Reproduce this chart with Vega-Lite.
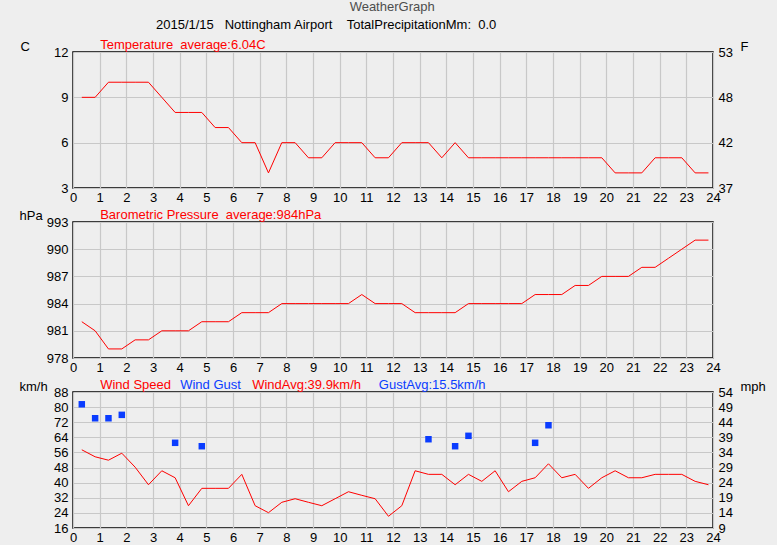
{
  "$schema": "https://vega.github.io/schema/vega-lite/v6.json",
  "padding": {"left": 18, "top": 1, "right": 10, "bottom": 5},
  "background": "#eeeeee",
  "title": {"text": "WeatherGraph", "fontSize": 13, "fontWeight": "normal", "color": "#4d4d4d", "font": "Liberation Sans", "anchor": "middle", "offset": 4},
  "config": {
    "view": {"stroke": "black", "strokeWidth": 1.5},
    "font": "Liberation Sans",
    "axis": {"labelFont": "Liberation Sans", "labelFontSize": 13, "labelColor": "black", "gridColor": "#c8c8c8", "gridWidth": 1.2, "ticks": false, "domain": false, "titleFont": "Liberation Sans", "titleFontSize": 13, "titleFontWeight": "normal", "titleColor": "black", "labelOverlap": false, "labelFlush": false, "labelBound": false}
  },
  "datasets": {
    "temp": [
      {"hour": 0.33, "c": 9}, {"hour": 0.83, "c": 9}, {"hour": 1.33, "c": 10}, {"hour": 1.83, "c": 10},
      {"hour": 2.33, "c": 10}, {"hour": 2.83, "c": 10}, {"hour": 3.33, "c": 9}, {"hour": 3.83, "c": 8},
      {"hour": 4.33, "c": 8}, {"hour": 4.83, "c": 8}, {"hour": 5.33, "c": 7}, {"hour": 5.83, "c": 7},
      {"hour": 6.33, "c": 6}, {"hour": 6.83, "c": 6}, {"hour": 7.33, "c": 4}, {"hour": 7.83, "c": 6},
      {"hour": 8.33, "c": 6}, {"hour": 8.83, "c": 5}, {"hour": 9.33, "c": 5}, {"hour": 9.83, "c": 6},
      {"hour": 10.33, "c": 6}, {"hour": 10.83, "c": 6}, {"hour": 11.33, "c": 5}, {"hour": 11.83, "c": 5},
      {"hour": 12.33, "c": 6}, {"hour": 12.83, "c": 6}, {"hour": 13.33, "c": 6}, {"hour": 13.83, "c": 5},
      {"hour": 14.33, "c": 6}, {"hour": 14.83, "c": 5}, {"hour": 15.33, "c": 5}, {"hour": 15.83, "c": 5},
      {"hour": 16.33, "c": 5}, {"hour": 16.83, "c": 5}, {"hour": 17.33, "c": 5}, {"hour": 17.83, "c": 5},
      {"hour": 18.33, "c": 5}, {"hour": 18.83, "c": 5}, {"hour": 19.33, "c": 5}, {"hour": 19.83, "c": 5},
      {"hour": 20.33, "c": 4}, {"hour": 20.83, "c": 4}, {"hour": 21.33, "c": 4}, {"hour": 21.83, "c": 5},
      {"hour": 22.33, "c": 5}, {"hour": 22.83, "c": 5}, {"hour": 23.33, "c": 4}, {"hour": 23.83, "c": 4}
    ],
    "pressure": [
      {"hour": 0.33, "hpa": 982}, {"hour": 0.83, "hpa": 981}, {"hour": 1.33, "hpa": 979}, {"hour": 1.83, "hpa": 979},
      {"hour": 2.33, "hpa": 980}, {"hour": 2.83, "hpa": 980}, {"hour": 3.33, "hpa": 981}, {"hour": 3.83, "hpa": 981},
      {"hour": 4.33, "hpa": 981}, {"hour": 4.83, "hpa": 982}, {"hour": 5.33, "hpa": 982}, {"hour": 5.83, "hpa": 982},
      {"hour": 6.33, "hpa": 983}, {"hour": 6.83, "hpa": 983}, {"hour": 7.33, "hpa": 983}, {"hour": 7.83, "hpa": 984},
      {"hour": 8.33, "hpa": 984}, {"hour": 8.83, "hpa": 984}, {"hour": 9.33, "hpa": 984}, {"hour": 9.83, "hpa": 984},
      {"hour": 10.33, "hpa": 984}, {"hour": 10.83, "hpa": 985}, {"hour": 11.33, "hpa": 984}, {"hour": 11.83, "hpa": 984},
      {"hour": 12.33, "hpa": 984}, {"hour": 12.83, "hpa": 983}, {"hour": 13.33, "hpa": 983}, {"hour": 13.83, "hpa": 983},
      {"hour": 14.33, "hpa": 983}, {"hour": 14.83, "hpa": 984}, {"hour": 15.33, "hpa": 984}, {"hour": 15.83, "hpa": 984},
      {"hour": 16.33, "hpa": 984}, {"hour": 16.83, "hpa": 984}, {"hour": 17.33, "hpa": 985}, {"hour": 17.83, "hpa": 985},
      {"hour": 18.33, "hpa": 985}, {"hour": 18.83, "hpa": 986}, {"hour": 19.33, "hpa": 986}, {"hour": 19.83, "hpa": 987},
      {"hour": 20.33, "hpa": 987}, {"hour": 20.83, "hpa": 987}, {"hour": 21.33, "hpa": 988}, {"hour": 21.83, "hpa": 988},
      {"hour": 22.33, "hpa": 989}, {"hour": 22.83, "hpa": 990}, {"hour": 23.33, "hpa": 991}, {"hour": 23.83, "hpa": 991}
    ],
    "wind": [
      {"hour": 0.33, "kmh": 57.4}, {"hour": 0.83, "kmh": 53.7}, {"hour": 1.33, "kmh": 51.9}, {"hour": 1.83, "kmh": 55.6},
      {"hour": 2.33, "kmh": 48.2}, {"hour": 2.83, "kmh": 38.9}, {"hour": 3.33, "kmh": 46.3}, {"hour": 3.83, "kmh": 42.6},
      {"hour": 4.33, "kmh": 27.8}, {"hour": 4.83, "kmh": 37.0}, {"hour": 5.33, "kmh": 37.0}, {"hour": 5.83, "kmh": 37.0},
      {"hour": 6.33, "kmh": 44.4}, {"hour": 6.83, "kmh": 27.8}, {"hour": 7.33, "kmh": 24.1}, {"hour": 7.83, "kmh": 29.6},
      {"hour": 8.33, "kmh": 31.5}, {"hour": 8.83, "kmh": 29.6}, {"hour": 9.33, "kmh": 27.8}, {"hour": 9.83, "kmh": 31.5},
      {"hour": 10.33, "kmh": 35.2}, {"hour": 10.83, "kmh": 33.3}, {"hour": 11.33, "kmh": 31.5}, {"hour": 11.83, "kmh": 22.2},
      {"hour": 12.33, "kmh": 27.8}, {"hour": 12.83, "kmh": 46.3}, {"hour": 13.33, "kmh": 44.4}, {"hour": 13.83, "kmh": 44.4},
      {"hour": 14.33, "kmh": 38.9}, {"hour": 14.83, "kmh": 44.4}, {"hour": 15.33, "kmh": 40.7}, {"hour": 15.83, "kmh": 46.3},
      {"hour": 16.33, "kmh": 35.2}, {"hour": 16.83, "kmh": 40.7}, {"hour": 17.33, "kmh": 42.6}, {"hour": 17.83, "kmh": 50.0},
      {"hour": 18.33, "kmh": 42.6}, {"hour": 18.83, "kmh": 44.4}, {"hour": 19.33, "kmh": 37.0}, {"hour": 19.83, "kmh": 42.6},
      {"hour": 20.33, "kmh": 46.3}, {"hour": 20.83, "kmh": 42.6}, {"hour": 21.33, "kmh": 42.6}, {"hour": 21.83, "kmh": 44.4},
      {"hour": 22.33, "kmh": 44.4}, {"hour": 22.83, "kmh": 44.4}, {"hour": 23.33, "kmh": 40.7}, {"hour": 23.83, "kmh": 38.9}
    ],
    "gust": [
      {"hour": 0.33, "kmh": 81.5}, {"hour": 0.83, "kmh": 74.1}, {"hour": 1.33, "kmh": 74.1}, {"hour": 1.83, "kmh": 75.9},
      {"hour": 3.83, "kmh": 61.1}, {"hour": 4.83, "kmh": 59.3}, {"hour": 13.33, "kmh": 63.0}, {"hour": 14.33, "kmh": 59.3},
      {"hour": 14.83, "kmh": 64.8}, {"hour": 17.33, "kmh": 61.1}, {"hour": 17.83, "kmh": 70.4}
    ]
  },
  "vconcat": [
    {
      "width": 640, "height": 136,
      "title": {"text": "2015/1/15\u00a0\u00a0\u00a0Nottingham Airport\u00a0\u00a0\u00a0\u00a0TotalPrecipitationMm:\u00a0\u00a00.0", "anchor": "start", "frame": "group", "dx": 83, "fontSize": 13, "fontWeight": "normal", "color": "black", "font": "Liberation Sans", "offset": 6},
      "data": {"name": "temp"},
      "layer": [
        {
          "mark": {"type": "line", "color": "red", "strokeWidth": 1},
          "encoding": {
            "x": {"field": "hour", "type": "quantitative", "scale": {"domain": [0, 24], "nice": false},
              "axis": {"orient": "bottom", "values": [0,1,2,3,4,5,6,7,8,9,10,11,12,13,14,15,16,17,18,19,20,21,22,23,24], "grid": true, "title": null, "labelPadding": 3}},
            "y": {"field": "c", "type": "quantitative", "scale": {"domain": [3, 12], "nice": false, "zero": false},
              "axis": {"orient": "left", "values": [3, 6, 9, 12], "grid": true, "title": "C", "titleAngle": 0, "titleAlign": "left", "titleBaseline": "middle", "titleX": -53, "titleY": -6, "labelPadding": 5}}
          }
        },
        {
          "mark": {"type": "line", "opacity": 0},
          "encoding": {
            "x": {"field": "hour", "type": "quantitative", "scale": {"domain": [0, 24], "nice": false},
              "axis": {"orient": "top", "values": [1], "labelExpr": "'Temperature\u00a0\u00a0average:6.04C'", "labelColor": "red", "labelAlign": "left", "labelBaseline": "bottom", "labelPadding": 1, "grid": false, "title": null, "labelLimit": 0}},
            "y": {"field": "c", "type": "quantitative", "scale": {"domain": [3, 12], "nice": false, "zero": false},
              "axis": {"orient": "right", "values": [3, 6, 9, 12], "labelExpr": "floor(datum.value*1.8+32)", "grid": false, "title": "F", "titleAngle": 0, "titleAlign": "left", "titleBaseline": "middle", "titleX": 27, "titleY": -6, "labelPadding": 5}}
          }
        }
      ],
      "resolve": {"axis": {"x": "independent", "y": "independent"}}
    },
    {
      "width": 640, "height": 136,
      "data": {"name": "pressure"},
      "layer": [
        {
          "mark": {"type": "line", "color": "red", "strokeWidth": 1},
          "encoding": {
            "x": {"field": "hour", "type": "quantitative", "scale": {"domain": [0, 24], "nice": false},
              "axis": {"orient": "bottom", "values": [0,1,2,3,4,5,6,7,8,9,10,11,12,13,14,15,16,17,18,19,20,21,22,23,24], "grid": true, "title": null, "labelPadding": 3}},
            "y": {"field": "hpa", "type": "quantitative", "scale": {"domain": [978, 993], "nice": false, "zero": false},
              "axis": {"orient": "left", "values": [978, 981, 984, 987, 990, 993], "grid": true, "title": "hPa", "titleAngle": 0, "titleAlign": "left", "titleBaseline": "middle", "titleX": -54, "titleY": -7, "labelPadding": 5}}
          }
        },
        {
          "mark": {"type": "line", "opacity": 0},
          "encoding": {
            "x": {"field": "hour", "type": "quantitative", "scale": {"domain": [0, 24], "nice": false},
              "axis": {"orient": "top", "values": [1], "labelExpr": "'Barometric Pressure\u00a0\u00a0average:984hPa'", "labelColor": "red", "labelAlign": "left", "labelBaseline": "bottom", "labelPadding": 1, "grid": false, "title": null, "labelLimit": 0}},
            "y": {"field": "hpa", "type": "quantitative", "scale": {"domain": [978, 993], "nice": false, "zero": false},
              "axis": {"orient": "left", "values": [978, 981, 984, 987, 990, 993], "grid": true, "title": "hPa", "titleAngle": 0, "titleAlign": "left", "titleBaseline": "middle", "titleX": -54, "titleY": -7, "labelPadding": 5}}
          }
        }
      ],
      "resolve": {"axis": {"x": "independent"}}
    },
    {
      "width": 640, "height": 136,
      "layer": [
        {
          "data": {"name": "wind"},
          "mark": {"type": "line", "color": "red", "strokeWidth": 1},
          "encoding": {
            "x": {"field": "hour", "type": "quantitative", "scale": {"domain": [0, 24], "nice": false},
              "axis": {"orient": "bottom", "values": [0,1,2,3,4,5,6,7,8,9,10,11,12,13,14,15,16,17,18,19,20,21,22,23,24], "grid": true, "title": null, "labelPadding": 3}},
            "y": {"field": "kmh", "type": "quantitative", "scale": {"domain": [16, 88], "nice": false, "zero": false},
              "axis": {"orient": "left", "values": [16, 24, 32, 40, 48, 56, 64, 72, 80, 88], "grid": true, "title": "km/h", "titleAngle": 0, "titleAlign": "left", "titleBaseline": "middle", "titleX": -54, "titleY": -6, "labelPadding": 5}}
          }
        },
        {
          "data": {"name": "gust"},
          "mark": {"type": "square", "color": "#0a3cff", "opacity": 1, "size": 42, "filled": true},
          "encoding": {
            "x": {"field": "hour", "type": "quantitative", "scale": {"domain": [0, 24], "nice": false},
              "axis": {"orient": "top", "values": [1, 4, 6.7, 11.45], "labelExpr": "datum.value < 2 ? 'Wind Speed' : datum.value < 5 ? 'Wind Gust' : datum.value < 8 ? 'WindAvg:39.9km/h' : 'GustAvg:15.5km/h'", "labelColor": {"condition": {"test": "datum.value < 2 || (datum.value > 5 && datum.value < 8)", "value": "red"}, "value": "#0a3cff"}, "labelAlign": "left", "labelBaseline": "bottom", "labelPadding": 1, "grid": false, "title": null, "labelLimit": 0}},
            "y": {"field": "kmh", "type": "quantitative", "scale": {"domain": [16, 88], "nice": false, "zero": false},
              "axis": {"orient": "right", "values": [16, 24, 32, 40, 48, 56, 64, 72, 80, 88], "labelExpr": "9 + (datum.value - 16) / 8 * 5", "grid": false, "title": "mph", "titleAngle": 0, "titleAlign": "left", "titleBaseline": "middle", "titleX": 27, "titleY": -6, "labelPadding": 5}}
          }
        }
      ],
      "resolve": {"axis": {"x": "independent", "y": "independent"}}
    }
  ],
  "spacing": 34,
  "bounds": "flush"
}
